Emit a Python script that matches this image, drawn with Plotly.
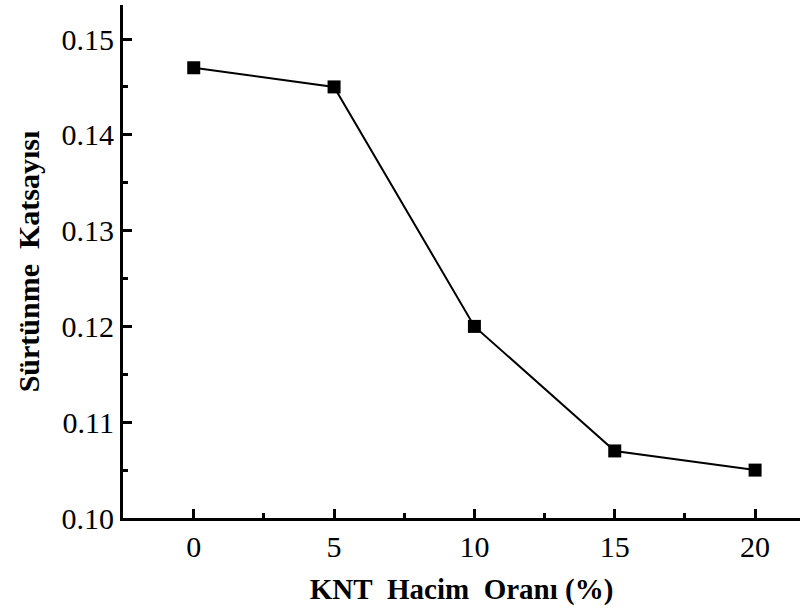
import plotly.graph_objects as go

# Friction coefficient versus CNT volume fraction
knt_orani = [0, 5, 10, 15, 20]
surtunme = [0.147, 0.145, 0.120, 0.107, 0.105]

x_ticks = [0, 5, 10, 15, 20]
y_ticks = [0.10, 0.11, 0.12, 0.13, 0.14, 0.15]

font_family = "Liberation Serif"

fig = go.Figure()
fig.add_trace(go.Scatter(
    x=knt_orani, y=surtunme,
    mode="lines+markers",
    line=dict(color="black", width=2),
    marker=dict(symbol="square", size=13, color="black"),
    showlegend=False,
))

axis_common = dict(
    showgrid=False, zeroline=False,
    showline=True, linecolor="black", linewidth=3,
    ticks="inside", ticklen=9, tickwidth=3, tickcolor="black",
    tickfont=dict(family=font_family, size=30, color="black"),
    mirror=False,
)

fig.update_xaxes(
    range=[-2.52, 21.6],
    tickvals=x_ticks,
    ticktext=[str(v) for v in x_ticks],
    minor=dict(dtick=2.5, tick0=0, ticks="inside", ticklen=5, tickwidth=3, tickcolor="black"),
    title=dict(text="<b>KNT&nbsp; Hacim&nbsp; Oranı (%)</b>",
               font=dict(family=font_family, size=29, color="black"), standoff=17),
    **axis_common,
)
fig.update_yaxes(
    range=[0.10, 0.15355],
    tickvals=y_ticks,
    ticktext=[f"{v:.2f}" for v in y_ticks],
    minor=dict(dtick=0.005, tick0=0.10, ticks="inside", ticklen=5, tickwidth=3, tickcolor="black"),
    title=dict(text="<b>Sürtünme&nbsp; Katsayısı</b>",
               font=dict(family=font_family, size=30, color="black"), standoff=14),
    **axis_common,
)

fig.update_layout(
    width=802, height=615,
    margin=dict(l=123, r=2, t=5, b=97, autoexpand=False),
    plot_bgcolor="white", paper_bgcolor="white",
    font=dict(family=font_family, color="black"),
)

fig.write_html("out.html")
